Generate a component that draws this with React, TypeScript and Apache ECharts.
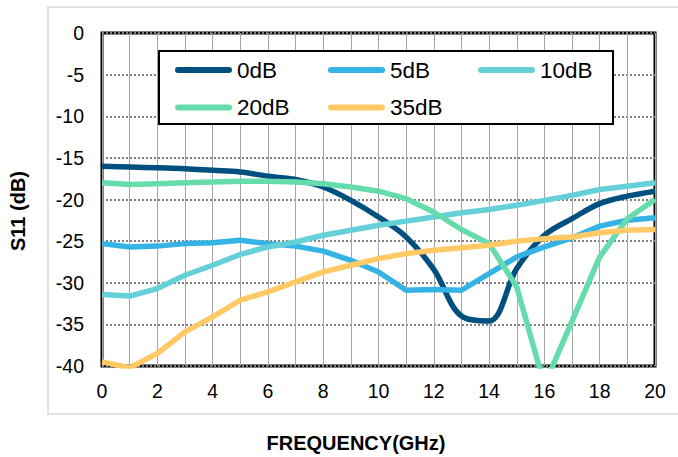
import React, { useEffect, useRef } from "react";
import * as echarts from "echarts";

const freq = [0, 1, 2, 3, 4, 5, 6, 7, 8, 9, 10, 11, 12, 13, 14, 15, 16, 17, 18, 19, 20];
const seriesNames = ["0dB", "5dB", "10dB", "20dB", "35dB"];
const s0dB = [-16.0, -16.1, -16.2, -16.3, -16.5, -16.7, -17.2, -17.6, -18.5, -20.1, -22.1, -24.5, -28.4, -34.0, -34.6, -28.3, -24.3, -22.3, -20.5, -19.6, -19.0];
const s5dB = [-25.3, -25.7, -25.6, -25.3, -25.2, -24.9, -25.3, -25.6, -26.2, -27.3, -28.7, -30.9, -30.8, -30.9, -28.9, -26.9, -25.7, -24.6, -23.2, -22.5, -22.2];
const s10dB = [-31.4, -31.6, -30.7, -29.1, -27.9, -26.6, -25.7, -25.1, -24.3, -23.7, -23.1, -22.6, -22.1, -21.6, -21.2, -20.7, -20.1, -19.5, -18.8, -18.4, -18.0];
const s20dB = [-18.0, -18.2, -18.1, -18.0, -17.9, -17.8, -17.8, -17.9, -18.1, -18.5, -19.0, -19.9, -21.5, -23.6, -25.3, -30.5, -42.3, -34.6, -26.9, -22.3, -20.0];
const s35dB = [-39.5, -40.2, -38.5, -35.9, -34.1, -32.1, -31.1, -29.9, -28.7, -27.9, -27.1, -26.5, -26.1, -25.8, -25.5, -25.0, -24.7, -24.5, -24.0, -23.7, -23.6];
const allValues = [s0dB, s5dB, s10dB, s20dB, s35dB];
const colors = ["#00507F", "#35B3E5", "#65D0D8", "#66DBAB", "#FFC965"];
const smoothing = [0.35, false, false, false, false];

const FONT = "'Liberation Sans', Arial, sans-serif";

export default function App() {
  const ref = useRef<HTMLDivElement>(null);
  useEffect(() => {
    document.body.style.margin = "0";
    const chart = echarts.init(ref.current!, null, { renderer: "svg" });
    const capsule = "path://M3 0H54A3 3 0 0 1 54 6H3A3 3 0 0 1 3 0Z";
    const legendCommon = {
      orient: "vertical",
      top: 58.5,
      padding: 0,
      itemWidth: 57,
      itemHeight: 6,
      itemGap: 14.5,
      icon: capsule,
      selectedMode: false,
      textStyle: { fontSize: 22.5, lineHeight: 22, color: "#000", fontFamily: FONT },
    };
    chart.setOption({
      animation: false,
      textStyle: { fontFamily: FONT },
      grid: {
        left: 102,
        top: 33,
        width: 553,
        height: 333,
        show: true,
        borderColor: "#000",
        borderWidth: 3,
        backgroundColor: "transparent",
      },
      xAxis: {
        type: "value",
        min: 0,
        max: 20,
        interval: 1,
        axisLine: { show: false },
        axisTick: { show: false },
        axisLabel: {
          formatter: (v: number) => (v % 2 === 0 ? String(v) : ""),
          fontSize: 19.5,
          color: "#000",
          margin: 15,
          fontFamily: FONT,
        },
        splitLine: { show: true, lineStyle: { color: "#a6a6a6", width: 1 } },
      },
      yAxis: {
        type: "value",
        min: -40,
        max: 0,
        interval: 5,
        axisLine: { show: false },
        axisTick: { show: false },
        axisLabel: { fontSize: 19.5, color: "#000", margin: 18, fontFamily: FONT },
        splitLine: { show: true, lineStyle: { color: "#7f7f7f", width: 2, type: [2, 2] } },
      },
      legend: [
        { ...legendCommon, left: 175, data: ["0dB", "20dB"] },
        { ...legendCommon, left: 328, data: ["5dB", "35dB"] },
        { ...legendCommon, left: 478, data: ["10dB"] },
      ],
      graphic: [
        {
          type: "rect",
          silent: true,
          z: 0,
          shape: { x: 48, y: 7, width: 650, height: 407 },
          style: { fill: "none", stroke: "#d9d9d9", lineWidth: 1.5 },
        },
        {
          type: "rect",
          silent: true,
          z: 3,
          shape: { x: 159, y: 51, width: 454, height: 73 },
          style: { fill: "#fff", stroke: "#000", lineWidth: 2 },
        },
        {
          type: "text",
          x: 18,
          y: 211,
          rotation: Math.PI / 2,
          style: {
            text: "S11 (dB)",
            font: `bold 20px ${FONT}`,
            fill: "#000",
            textAlign: "center",
            textVerticalAlign: "middle",
          },
        },
        {
          type: "text",
          x: 356,
          y: 443,
          style: {
            text: "FREQUENCY(GHz)",
            font: `bold 20px ${FONT}`,
            fill: "#000",
            textAlign: "center",
            textVerticalAlign: "middle",
          },
        },
      ],
      series: seriesNames.map((name, i) => ({
        name,
        type: "line",
        symbol: "none",
        showSymbol: false,
        smooth: smoothing[i],
        clip: true,
        color: colors[i],
        lineStyle: { color: colors[i], width: 5.5, join: "round" },
        data: freq.map((f, j) => [f, allValues[i][j]]),
      })),
    });
    return () => chart.dispose();
  }, []);
  return <div ref={ref} style={{ width: 678, height: 457 }} />;
}
